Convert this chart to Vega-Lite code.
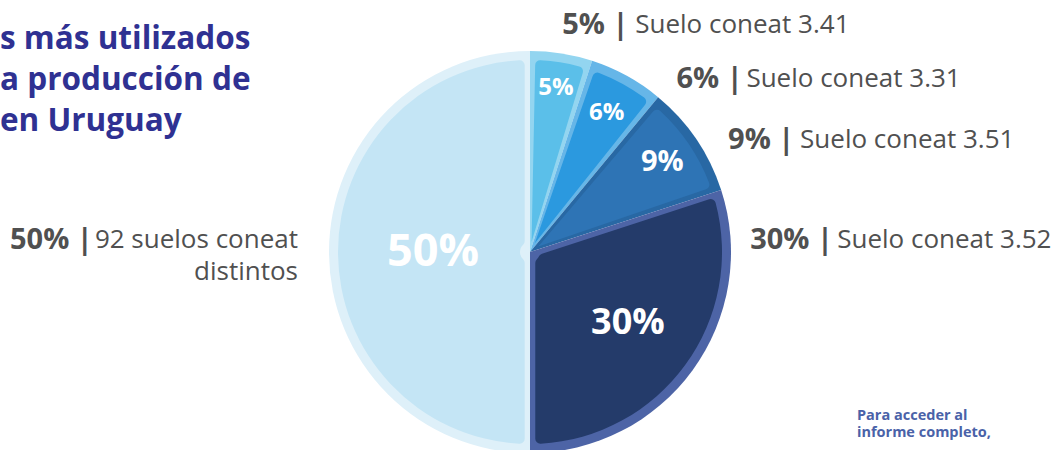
{
  "$schema": "https://vega.github.io/schema/vega-lite/v6.json",
  "width": 1060,
  "height": 504,
  "autosize": {"type": "none"},
  "padding": 0,
  "background": "white",
  "config": {"view": {"stroke": null}, "font": "Open Sans"},
  "title": {
    "text": ["s más utilizados", "a producción de", "en Uruguay"],
    "anchor": "start",
    "frame": "group",
    "orient": "top",
    "baseline": "alphabetic",
    "align": "left",
    "offset": -162,
    "lineHeight": 41,
    "font": "Open Sans",
    "fontSize": 31.5,
    "fontWeight": "bold",
    "color": "#2f3192"
  },
  "data": {
    "values": [
      {"suelo": "Suelo coneat 3.41", "pct": 5, "label": "5%", "bold": "5% |"},
      {"suelo": "Suelo coneat 3.31", "pct": 6, "label": "6%", "bold": "6% |"},
      {"suelo": "Suelo coneat 3.51", "pct": 9, "label": "9%", "bold": "9% |"},
      {"suelo": "Suelo coneat 3.52", "pct": 30, "label": "30%", "bold": "30% |"},
      {"suelo": "92 suelos coneat\ndistintos", "pct": 50, "label": "50%", "bold": "50% |"}
    ]
  },
  "layer": [
    {
      "mark": {"type": "arc", "outerRadius": 201},
      "encoding": {
        "theta": {"field": "pct", "type": "quantitative", "stack": true},
        "order": {"field": "pct", "sort": "ascending"},
        "color": {
          "field": "suelo", "type": "nominal", "legend": null,
          "scale": {
            "domain": ["Suelo coneat 3.41", "Suelo coneat 3.31", "Suelo coneat 3.51", "Suelo coneat 3.52", "92 suelos coneat\ndistintos"],
            "range": ["#93d5f0", "#66b6e8", "#2868a4", "#4d64a6", "#def0f9"]
          }
        }
      }
    },
    {
      "mark": {"type": "arc", "outerRadius": 192, "innerRadius": 10, "padAngle": 0.055, "cornerRadius": 5},
      "encoding": {
        "theta": {"field": "pct", "type": "quantitative", "stack": true},
        "order": {"field": "pct", "sort": "ascending"},
        "fill": {
          "field": "suelo", "type": "nominal", "legend": null,
          "scale": {
            "domain": ["Suelo coneat 3.41", "Suelo coneat 3.31", "Suelo coneat 3.51", "Suelo coneat 3.52", "92 suelos coneat\ndistintos"],
            "range": ["#5bbfe9", "#2b99df", "#2e74b5", "#243b6a", "#c4e5f5"]
          }
        }
      }
    },
    {
      "mark": {"type": "text", "font": "Open Sans", "fontWeight": "bold", "color": "white", "align": "center", "baseline": "middle"},
      "encoding": {
        "theta": {"field": "pct", "type": "quantitative", "stack": true},
        "order": {"field": "pct", "sort": "ascending"},
        "detail": {"field": "suelo"},
        "text": {"field": "label"},
        "radius": {"field": "pct", "type": "quantitative", "scale": {"type": "linear", "domain": [5, 6, 9, 30, 50], "range": [166, 159, 160, 121, 97]}},
        "size": {"field": "pct", "type": "quantitative", "legend": null, "scale": {"type": "linear", "domain": [5, 6, 9, 30, 50], "range": [24, 24, 29, 36, 45]}}
      }
    },
    {
      "mark": {"type": "text", "radius": 225, "align": "left", "baseline": "middle", "dx": -3, "dy": -5, "fontSize": 29, "fontWeight": "bold", "color": "#505050"},
      "encoding": {
        "theta": {"field": "pct", "type": "quantitative", "stack": true},
        "order": {"field": "pct", "sort": "ascending"},
        "detail": {"field": "suelo"},
        "text": {"condition": {"test": "datum.pct === 5", "field": "bold"}, "value": ""}
      }
    },
    {
      "mark": {"type": "text", "radius": 225, "align": "left", "baseline": "middle", "dx": 70, "dy": -5, "fontSize": 26, "color": "#505050"},
      "encoding": {
        "theta": {"field": "pct", "type": "quantitative", "stack": true},
        "order": {"field": "pct", "sort": "ascending"},
        "detail": {"field": "suelo"},
        "text": {"condition": {"test": "datum.pct === 5", "field": "suelo"}, "value": ""}
      }
    },
    {
      "mark": {"type": "text", "radius": 225, "align": "left", "baseline": "middle", "dx": 38, "dy": 24, "fontSize": 29, "fontWeight": "bold", "color": "#505050"},
      "encoding": {
        "theta": {"field": "pct", "type": "quantitative", "stack": true},
        "order": {"field": "pct", "sort": "ascending"},
        "detail": {"field": "suelo"},
        "text": {"condition": {"test": "datum.pct === 6", "field": "bold"}, "value": ""}
      }
    },
    {
      "mark": {"type": "text", "radius": 225, "align": "left", "baseline": "middle", "dx": 108, "dy": 24, "fontSize": 26, "color": "#505050"},
      "encoding": {
        "theta": {"field": "pct", "type": "quantitative", "stack": true},
        "order": {"field": "pct", "sort": "ascending"},
        "detail": {"field": "suelo"},
        "text": {"condition": {"test": "datum.pct === 6", "field": "suelo"}, "value": ""}
      }
    },
    {
      "mark": {"type": "text", "radius": 225, "align": "left", "baseline": "middle", "dx": 12, "dy": 14, "fontSize": 29, "fontWeight": "bold", "color": "#505050"},
      "encoding": {
        "theta": {"field": "pct", "type": "quantitative", "stack": true},
        "order": {"field": "pct", "sort": "ascending"},
        "detail": {"field": "suelo"},
        "text": {"condition": {"test": "datum.pct === 9", "field": "bold"}, "value": ""}
      }
    },
    {
      "mark": {"type": "text", "radius": 225, "align": "left", "baseline": "middle", "dx": 84, "dy": 14, "fontSize": 26, "color": "#505050"},
      "encoding": {
        "theta": {"field": "pct", "type": "quantitative", "stack": true},
        "order": {"field": "pct", "sort": "ascending"},
        "detail": {"field": "suelo"},
        "text": {"condition": {"test": "datum.pct === 9", "field": "suelo"}, "value": ""}
      }
    },
    {
      "mark": {"type": "text", "radius": 20, "align": "left", "baseline": "middle", "dx": 204, "dy": -24, "fontSize": 29, "fontWeight": "bold", "color": "#505050"},
      "encoding": {
        "theta": {"field": "pct", "type": "quantitative", "stack": true},
        "order": {"field": "pct", "sort": "ascending"},
        "detail": {"field": "suelo"},
        "text": {"condition": {"test": "datum.pct === 30", "field": "bold"}, "value": ""}
      }
    },
    {
      "mark": {"type": "text", "radius": 20, "align": "left", "baseline": "middle", "dx": 291, "dy": -24, "fontSize": 26, "color": "#505050"},
      "encoding": {
        "theta": {"field": "pct", "type": "quantitative", "stack": true},
        "order": {"field": "pct", "sort": "ascending"},
        "detail": {"field": "suelo"},
        "text": {"condition": {"test": "datum.pct === 30", "field": "suelo"}, "value": ""}
      }
    },
    {
      "mark": {"type": "text", "radius": 0, "align": "left", "baseline": "middle", "dx": -520, "dy": -12, "fontSize": 29, "fontWeight": "bold", "color": "#505050"},
      "encoding": {
        "theta": {"field": "pct", "type": "quantitative", "stack": true},
        "order": {"field": "pct", "sort": "ascending"},
        "detail": {"field": "suelo"},
        "text": {"condition": {"test": "datum.pct === 50", "field": "bold"}, "value": ""}
      }
    },
    {
      "mark": {"type": "text", "radius": 0, "align": "right", "baseline": "middle", "lineBreak": "\n", "lineHeight": 32, "dx": -232, "dy": -12, "fontSize": 26, "color": "#505050"},
      "encoding": {
        "theta": {"field": "pct", "type": "quantitative", "stack": true},
        "order": {"field": "pct", "sort": "ascending"},
        "detail": {"field": "suelo"},
        "text": {"condition": {"test": "datum.pct === 50", "field": "suelo"}, "value": ""}
      }
    },
    {
      "data": {"values": [{"note": "Para acceder al\ninforme completo,"}]},
      "mark": {"type": "text", "align": "left", "baseline": "middle", "lineBreak": "\n", "lineHeight": 17.5, "dx": 327, "dy": 163.5, "fontSize": 14.5, "fontWeight": "bold", "color": "#4a62a8"},
      "encoding": {"text": {"field": "note"}}
    }
  ]
}
